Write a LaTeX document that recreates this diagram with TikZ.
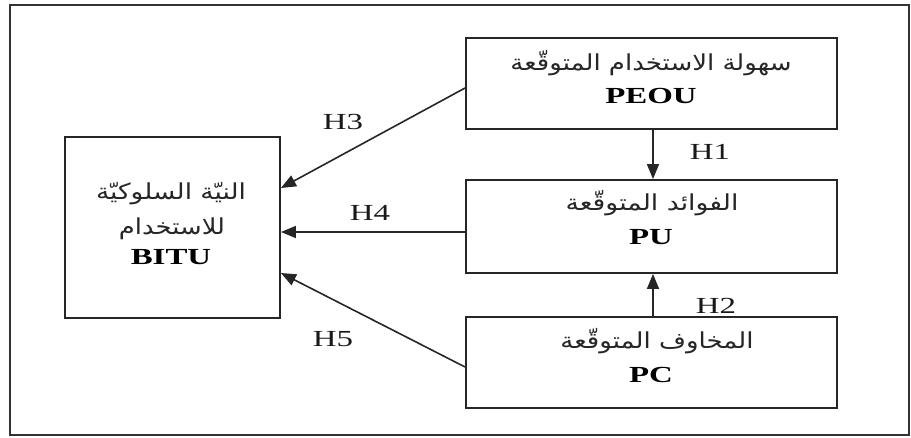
\documentclass[tikz,border=0pt]{standalone}
\usepackage{fontspec}
\setmainfont{Liberation Serif}
\newfontfamily\arabicfont[Script=Arabic]{DejaVu Sans}
\TeXXeTstate=1
\usetikzlibrary{arrows.meta,calc}
\newcommand{\artext}[2]{\resizebox{#1}{\height}{\fontsize{22}{26}\arabicfont #2}}
\newcommand{\latxt}[1]{\scalebox{1.43}[1]{#1}}
\begin{document}
\begin{tikzpicture}[x=1pt,y=-1pt,
  frm/.style={draw=black!80,line width=1.6pt,rectangle,inner sep=0pt},
  box/.style={draw=black!85,line width=1.9pt,rectangle,inner sep=0pt},
  lbl/.style={inner sep=0pt,text=black!90,font=\fontsize{23}{23}\selectfont},
  blbl/.style={inner sep=0pt,text=black,font=\fontsize{23}{23}\selectfont\bfseries},
  artx/.style={inner sep=0pt,text=black!85},
  arw/.style={draw=black!85,line width=1.6pt,-{Triangle[length=15pt,width=12pt]}},
  ]
\useasboundingbox (0,0) rectangle (911,437);
\node[frm,minimum width=899pt,minimum height=430pt] (frame) at (459.5,220) {};
% boxes
\node[box,minimum width=371pt,minimum height=91pt] (peou) at (651.5,83.5) {};
\node[box,minimum width=371pt,minimum height=93pt] (pu) at (651.5,226.5) {};
\node[box,minimum width=371pt,minimum height=91pt] (pc) at (651.5,362.5) {};
\node[box,minimum width=215pt,minimum height=181pt] (bitu) at (172.5,227.5) {};
% texts
\node[artx] (peouA) at (651,63) {\artext{281pt}{\beginR سهولة الاستخدام المتوقّعة\endR}};
\node[blbl] (peouL) at (651,96) {\latxt{PEOU}};
\node[artx] (puA) at (652,203) {\artext{173pt}{\beginR الفوائد المتوقّعة\endR}};
\node[blbl] (puL) at (651,237) {\latxt{PU}};
\node[artx] (pcA) at (657,341) {\artext{193pt}{\beginR المخاوف المتوقّعة\endR}};
\node[blbl] (pcL) at (651,375) {\latxt{PC}};
\node[artx] (bituA) at (171,194) {\artext{150pt}{\beginR النيّة السلوكيّة\endR}};
\node[artx] (bituB) at (172,229) {\artext{106pt}{\beginR للاستخدام\endR}};
\node[blbl] (bituL) at (171,257) {\latxt{BITU}};
% arrows
\draw[arw] ([yshift=-4.5pt]peou.west) -- ([yshift=39.5pt]bitu.east);
\draw[arw] ([yshift=-5.5pt]pu.west) -- ([yshift=-4.5pt]bitu.east);
\draw[arw] ([yshift=-4.5pt]pc.west) -- ([yshift=-45.5pt]bitu.east);
\draw[arw] ([xshift=1.5pt]peou.south) -- ([xshift=1.5pt]pu.north);
\draw[arw] ([xshift=1.5pt]pc.north) -- ([xshift=1.5pt]pu.south);
% hypothesis labels
\node[lbl] (h3) at (343,122) {\latxt{H3}};
\node[lbl] (h1) at (710,152) {\latxt{H1}};
\node[lbl] (h4) at (370,213) {\latxt{H4}};
\node[lbl] (h2) at (716,306) {\latxt{H2}};
\node[lbl] (h5) at (333,339) {\latxt{H5}};
\end{tikzpicture}
\end{document}
